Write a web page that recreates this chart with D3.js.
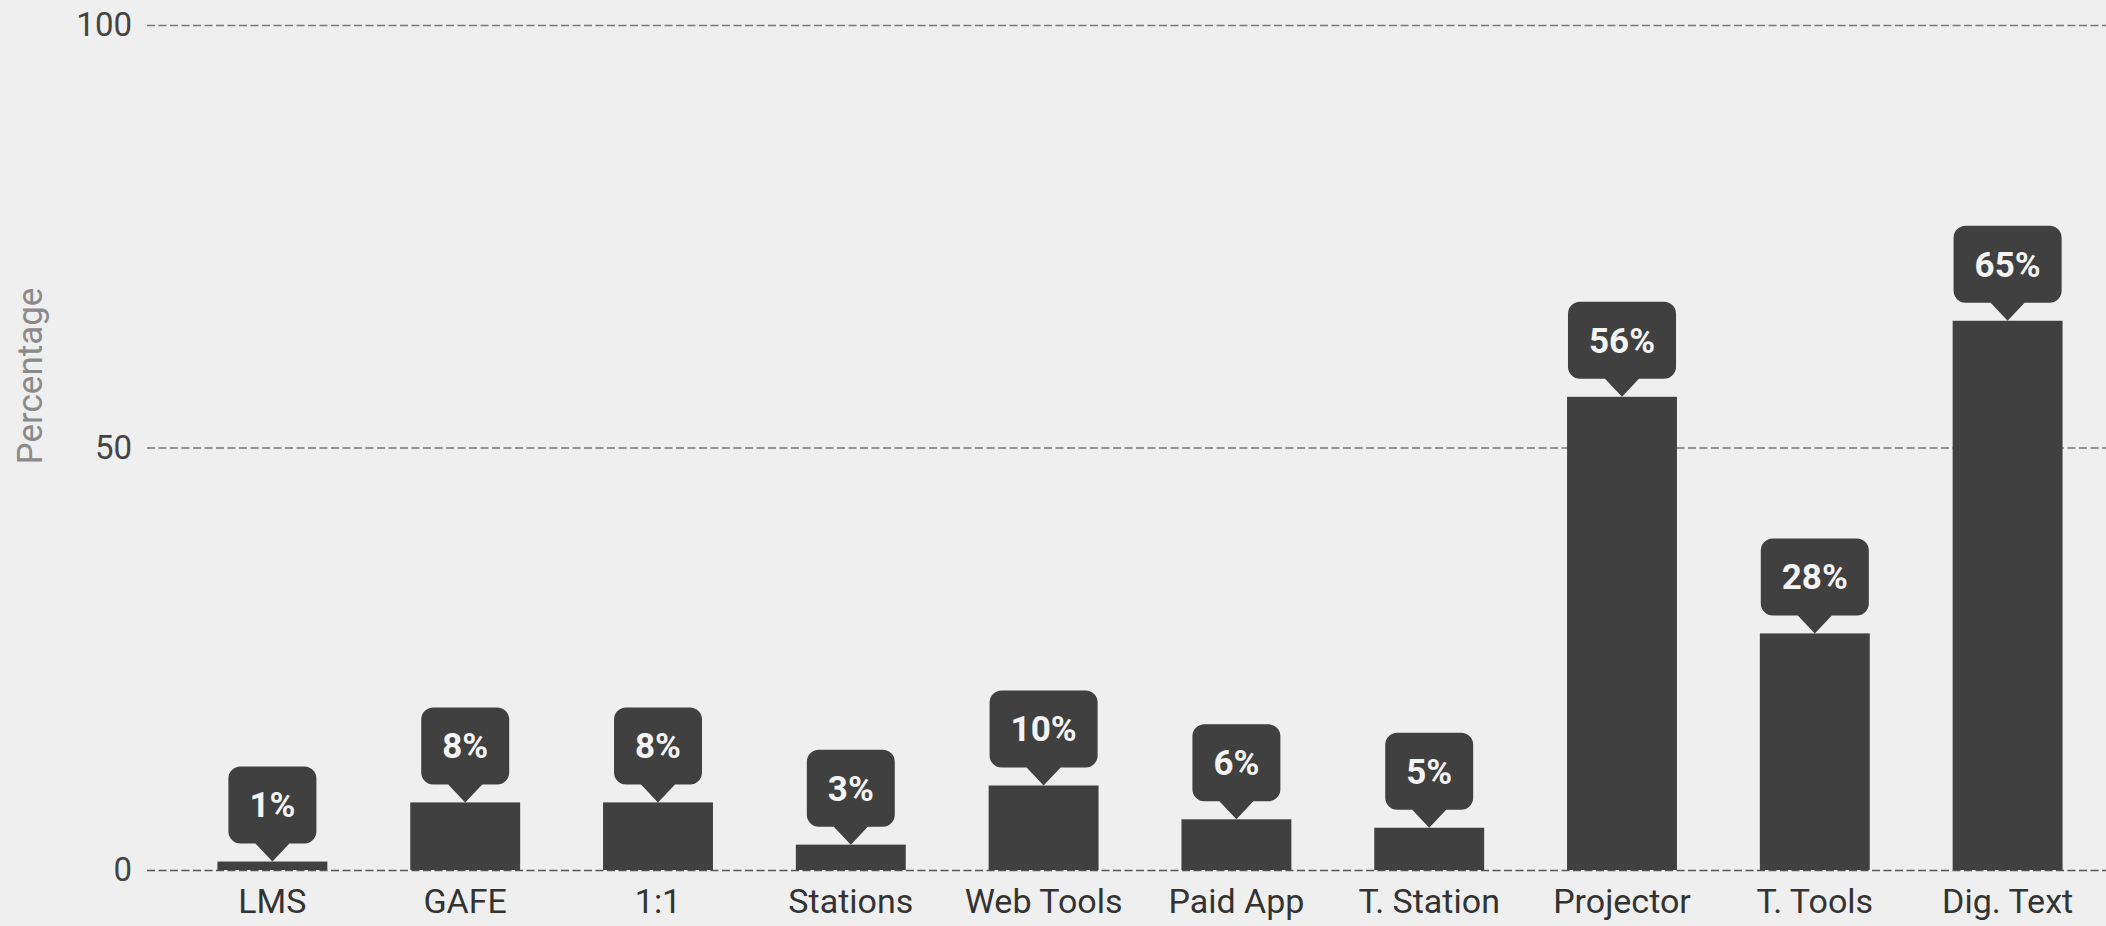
<!DOCTYPE html>
<html>
<head>
<meta charset="utf-8">
<script src="https://cdn.jsdelivr.net/npm/d3@7"></script>
<style>
  html, body { margin: 0; padding: 0; background: #efefef; }
  svg { display: block; }
</style>
</head>
<body>
<script>
const categories = ["LMS", "GAFE", "1:1", "Stations", "Web Tools", "Paid App", "T. Station", "Projector", "T. Tools", "Dig. Text"];
const values = [1, 8, 8, 3, 10, 6, 5, 56, 28, 65];
const yTicks = [0, 50, 100];
const yLabel = "Percentage";

const W = 2106, H = 926;
const svg = d3.select("body").append("svg").attr("width", W).attr("height", H);
svg.append("rect").attr("width", W).attr("height", H).attr("fill", "#efefef");

const gridLeft = 147;
const y = d3.scaleLinear().domain([0, 100]).range([870, 25]);
const x = d3.scaleBand().domain(categories).range([176, 2104]).paddingInner(0.43).paddingOuter(0.215);

const font = "Roboto, 'Liberation Sans', Arial, sans-serif";
const barColor = "#404040";

// Y axis with gridlines
const yAxis = svg.append("g")
  .attr("transform", `translate(${gridLeft},0)`)
  .call(d3.axisLeft(y).tickValues(yTicks).tickSize(-(W - gridLeft)).tickPadding(15).tickFormat(d3.format("d")));
yAxis.select(".domain").remove();
yAxis.selectAll(".tick line")
  .attr("stroke", d => d === 0 ? "#555" : "#777")
  .attr("stroke-width", d => d === 0 ? 1.6 : 1.3)
  .attr("stroke-dasharray", "8,3.5");
yAxis.selectAll(".tick text")
  .attr("fill", "#444")
  .style("font-family", font)
  .style("font-size", "33px");

// Y label
svg.append("text")
  .attr("transform", `translate(42,376) rotate(-90)`)
  .attr("text-anchor", "middle")
  .attr("fill", "#8a8a8a")
  .style("font-family", font)
  .style("font-size", "35px")
  .text(yLabel);

// Bars
const data = categories.map((c, i) => ({ c, v: values[i] }));
svg.append("g").selectAll("rect").data(data).join("rect")
  .attr("x", d => x(d.c))
  .attr("y", d => y(d.v))
  .attr("width", x.bandwidth())
  .attr("height", d => y(0) - y(d.v))
  .attr("fill", barColor);

// X axis labels
const xAxis = svg.append("g")
  .attr("transform", `translate(0,${y(0)})`)
  .call(d3.axisBottom(x).tickSize(0).tickPadding(19));
xAxis.select(".domain").remove();
xAxis.selectAll(".tick text")
  .attr("fill", "#333")
  .style("font-family", font)
  .style("font-size", "34px");

// Bubble labels
const bodyH = 77, ptrH = 18, ptrHalf = 17, rad = 12, padX = 21, fs = 35;
const bubbles = svg.append("g").selectAll("g").data(data).join("g");
bubbles.each(function(d) {
  const g = d3.select(this);
  const cx = x(d.c) + x.bandwidth() / 2;
  const tip = y(d.v);
  const bottom = tip - ptrH;
  const top = bottom - bodyH;
  const path = g.append("path").attr("fill", barColor);
  const t = g.append("text")
    .attr("x", cx)
    .attr("y", top + bodyH / 2 + fs * 0.355)
    .attr("text-anchor", "middle")
    .attr("fill", "#f4f4f4")
    .style("font-family", font)
    .style("font-size", fs + "px")
    .style("font-weight", "bold")
    .text(d.v + "%");
  const tw = t.node().getComputedTextLength();
  const w = tw + 2 * padX;
  const l = cx - w / 2, r = cx + w / 2;
  const p = d3.path();
  p.moveTo(l + rad, top);
  p.lineTo(r - rad, top);
  p.arcTo(r, top, r, top + rad, rad);
  p.lineTo(r, bottom - rad);
  p.arcTo(r, bottom, r - rad, bottom, rad);
  p.lineTo(cx + ptrHalf, bottom);
  p.lineTo(cx, tip);
  p.lineTo(cx - ptrHalf, bottom);
  p.lineTo(l + rad, bottom);
  p.arcTo(l, bottom, l, bottom - rad, rad);
  p.lineTo(l, top + rad);
  p.arcTo(l, top, l + rad, top, rad);
  p.closePath();
  path.attr("d", p.toString());
});
</script>
</body>
</html>
